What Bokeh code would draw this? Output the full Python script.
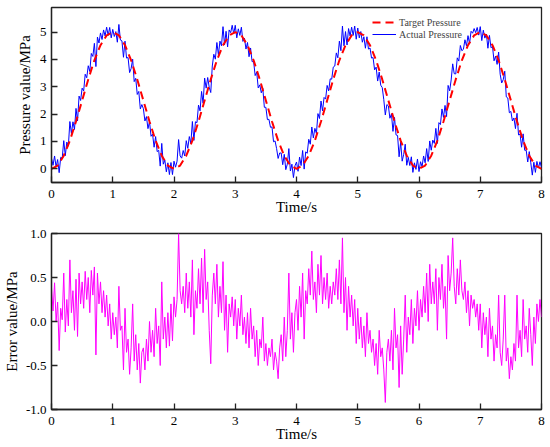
from bokeh.plotting import figure
from bokeh.layouts import column
from bokeh.models import Range1d, FixedTicker, PrintfTickFormatter, Legend, LegendItem
from bokeh.embed import file_html
from bokeh.resources import INLINE
import numpy as np

# ---------------- data ----------------
target_time = np.linspace(0, 8, 81)
target_pressure = [
    0.00, 0.12, 0.48, 1.03, 1.73, 2.50, 3.27, 3.97, 4.52, 4.88,
    5.00, 4.88, 4.52, 3.97, 3.27, 2.50, 1.73, 1.03, 0.48, 0.12,
    0.00, 0.12, 0.48, 1.03, 1.73, 2.50, 3.27, 3.97, 4.52, 4.88,
    5.00, 4.88, 4.52, 3.97, 3.27, 2.50, 1.73, 1.03, 0.48, 0.12,
    0.00, 0.12, 0.48, 1.03, 1.73, 2.50, 3.27, 3.97, 4.52, 4.88,
    5.00, 4.88, 4.52, 3.97, 3.27, 2.50, 1.73, 1.03, 0.48, 0.12,
    0.00, 0.12, 0.48, 1.03, 1.73, 2.50, 3.27, 3.97, 4.52, 4.88,
    5.00, 4.88, 4.52, 3.97, 3.27, 2.50, 1.73, 1.03, 0.48, 0.12,
    0.00,
]

sample_time = np.linspace(0, 8, 321)
actual_pressure = [
    0.38, 0.13, 0.47, 0.07, 0.34, -0.14, 0.42, 0.39, 1.03, 0.48,
    0.98, 0.83, 1.73, 1.29, 1.72, 1.44, 2.21, 1.75, 2.66, 2.50,
    2.95, 2.85, 3.46, 3.33, 3.77, 3.56, 4.22, 4.11, 4.59, 3.74,
    4.82, 4.60, 4.97, 4.73, 5.08, 4.86, 5.18, 4.88, 5.17, 4.79,
    5.10, 4.84, 5.02, 4.63, 5.28, 4.71, 4.68, 4.08, 4.67, 4.05,
    4.07, 3.52, 3.67, 4.01, 3.19, 3.31, 2.72, 2.83, 2.19, 2.35,
    2.20, 1.75, 1.91, 1.47, 1.73, 1.19, 1.27, 0.79, 1.18, 0.63,
    0.68, 0.10, 0.93, 0.17, 0.32, -0.11, 0.22, -0.21, 0.23, -0.21,
    0.28, 0.06, 0.28, 1.07, 0.47, 0.39, 0.67, 0.47, 1.03, 0.75,
    1.18, 0.93, 1.73, 1.04, 1.72, 1.69, 2.33, 2.12, 2.83, 2.40,
    3.32, 2.95, 3.34, 2.98, 2.79, 3.76, 4.19, 4.01, 4.62, 4.17,
    4.67, 4.50, 5.20, 4.53, 5.03, 4.46, 5.08, 4.98, 5.25, 4.94,
    5.25, 4.79, 5.12, 4.88, 5.18, 4.66, 4.78, 4.38, 4.62, 4.10,
    4.42, 3.92, 3.92, 3.41, 3.54, 2.96, 3.07, 2.78, 2.94, 2.25,
    2.25, 1.80, 1.81, 1.52, 1.53, 0.99, 1.02, 0.74, 0.38, 0.58,
    0.58, 0.15, 0.53, -0.03, 0.17, 0.74, -0.08, 0.17, -0.32, 0.11,
    0.25, -0.09, 0.43, 0.12, 0.67, -0.01, 0.62, 0.57, 1.08, 0.90,
    1.53, 1.13, 1.48, 1.29, 2.02, 1.84, 2.48, 2.12, 2.61, 2.55,
    3.05, 2.85, 3.29, 3.28, 3.72, 3.76, 4.24, 4.06, 4.67, 4.32,
    5.22, 4.50, 5.02, 4.53, 5.13, 4.86, 5.18, 4.88, 5.22, 4.74,
    5.15, 4.79, 5.02, 4.63, 4.83, 4.41, 4.83, 4.38, 4.42, 4.05,
    4.07, 3.62, 3.72, 3.21, 3.54, 3.06, 2.97, 2.53, 1.97, 2.35,
    2.30, 1.85, 2.01, 1.37, 1.88, 1.24, 1.22, 0.44, 0.98, 0.28,
    0.53, 0.90, 0.13, 0.42, 0.12, 0.44, -0.13, 0.22, -0.02, 0.36,
    -0.10, 0.26, 0.08, 0.47, 0.22, 0.74, 0.27, 1.02, 0.68, 1.05,
    0.93, 1.48, 0.93, 1.69, 1.62, 2.19, 1.88, 2.32, 1.91, 3.05,
    2.85, 3.25, 3.84, 3.48, 3.47, 4.06, 3.94, 4.51, 4.32, 4.37,
    4.72, 4.50, 4.87, 4.58, 5.03, 4.96, 5.13, 4.98, 5.17, 4.89,
    5.20, 4.69, 5.07, 4.78, 4.93, 4.41, 4.88, 4.43, 4.47, 3.95,
    4.12, 3.82, 4.27, 3.46, 3.14, 3.26, 3.57, 2.63, 2.59, 2.05,
    2.10, 1.75, 1.86, 1.47, 2.03, 1.24, 1.27, 0.79, 1.28, 0.68,
    0.68, 0.25, 0.63, 0.22, -0.23, 0.24, -0.13, 0.27, 0.03, 0.26,
    0.05,
]

error_value = [
    0.38, 0.12, 0.44, 0.00, 0.22, -0.33, 0.15, 0.02, 0.55, -0.12,
    0.25, -0.05, 0.70, 0.10, 0.35, -0.10, 0.48, -0.17, 0.55, 0.20,
    0.45, 0.15, 0.57, 0.25, 0.50, 0.10, 0.58, 0.30, 0.62, -0.38,
    0.55, 0.20, 0.45, 0.10, 0.35, 0.05, 0.30, -0.05, 0.20, -0.20,
    0.10, -0.15, 0.05, -0.30, 0.40, -0.10, -0.05, -0.55, 0.15, -0.35,
    -0.20, -0.60, -0.30, 0.20, -0.45, -0.15, -0.55, -0.25, -0.70, -0.35,
    -0.30, -0.55, -0.20, -0.45, 0.00, -0.35, -0.10, -0.40, 0.15, -0.25,
    -0.05, -0.50, 0.45, -0.20, 0.05, -0.30, 0.10, -0.28, 0.20, -0.22,
    0.28, 0.05, 0.25, 1.00, 0.35, 0.20, 0.40, 0.10, 0.55, 0.15,
    0.45, 0.05, 0.70, -0.15, 0.35, 0.15, 0.60, 0.20, 0.72, 0.10,
    0.82, 0.25, 0.45, -0.10, -0.48, 0.30, 0.55, 0.20, 0.65, 0.05,
    0.40, 0.10, 0.68, -0.10, 0.30, -0.35, 0.20, 0.05, 0.28, -0.05,
    0.25, -0.20, 0.15, -0.05, 0.30, -0.15, 0.05, -0.25, 0.10, -0.30,
    0.15, -0.20, -0.05, -0.40, -0.10, -0.50, -0.20, -0.30, 0.05, -0.45,
    -0.25, -0.50, -0.30, -0.40, -0.20, -0.55, -0.35, -0.45, -0.65, -0.30,
    -0.15, -0.45, 0.05, -0.40, -0.10, 0.55, -0.20, 0.10, -0.35, 0.10,
    0.25, -0.10, 0.40, 0.05, 0.55, -0.20, 0.35, 0.20, 0.60, 0.30,
    0.80, 0.25, 0.45, 0.10, 0.65, 0.30, 0.75, 0.20, 0.50, 0.25,
    0.55, 0.15, 0.40, 0.20, 0.45, 0.30, 0.60, 0.25, 0.70, 0.20,
    0.95, 0.10, 0.50, -0.10, 0.40, 0.05, 0.30, -0.05, 0.25, -0.25,
    0.15, -0.20, 0.05, -0.30, -0.05, -0.40, 0.10, -0.25, -0.10, -0.35,
    -0.20, -0.50, -0.25, -0.60, -0.10, -0.40, -0.30, -0.55, -0.92, -0.35,
    -0.20, -0.45, -0.10, -0.55, 0.15, -0.30, -0.15, -0.75, -0.05, -0.60,
    -0.20, 0.30, -0.35, 0.05, -0.15, 0.25, -0.25, 0.15, -0.05, 0.35,
    -0.10, 0.25, 0.05, 0.40, 0.10, 0.55, 0.00, 0.65, 0.20, 0.45,
    0.20, 0.60, -0.10, 0.50, 0.25, 0.65, 0.15, 0.40, -0.20, 0.75,
    0.35, 0.55, 0.95, 0.40, 0.20, 0.60, 0.30, 0.70, 0.35, 0.25,
    0.45, 0.10, 0.35, -0.05, 0.30, 0.15, 0.25, 0.05, 0.20, -0.10,
    0.20, -0.30, 0.10, -0.15, 0.05, -0.40, 0.15, -0.20, -0.05, -0.45,
    -0.15, -0.30, 0.30, -0.35, -0.50, -0.20, 0.30, -0.45, -0.30, -0.65,
    -0.40, -0.55, -0.25, -0.45, 0.30, -0.30, -0.10, -0.40, 0.25, -0.20,
    -0.05, -0.35, 0.15, -0.15, -0.50, 0.05, -0.25, 0.20, 0.00, 0.25,
    0.05,
]

x_ticks = [0, 1, 2, 3, 4, 5, 6, 7, 8]
pressure_ticks = [0, 1, 2, 3, 4, 5]
error_ticks = [-1.0, -0.5, 0.0, 0.5, 1.0]

FONT = "Liberation Serif"


def style(p, yticks):
    p.xaxis.ticker = FixedTicker(ticks=x_ticks)
    p.yaxis.ticker = FixedTicker(ticks=yticks)
    for ax in (p.xaxis[0], p.yaxis[0]):
        ax.major_tick_in = 6
        ax.major_tick_out = 0
        ax.minor_tick_line_color = None
        ax.axis_line_color = "#222222"
        ax.axis_line_width = 1.3
        ax.major_tick_line_color = "#222222"
        ax.major_tick_line_width = 1.3
        ax.major_label_text_font = FONT
        ax.major_label_text_font_size = "13px"
        ax.major_label_text_color = "black"
        ax.axis_label_text_font = FONT
        ax.axis_label_text_font_size = "15px"
        ax.axis_label_text_font_style = "normal"
        ax.axis_label_text_color = "black"
    p.xaxis.major_label_standoff = 7
    p.xaxis.axis_label_standoff = -2
    p.yaxis.major_label_standoff = 5
    p.xgrid.visible = False
    p.ygrid.visible = False
    p.outline_line_color = "#222222"
    p.outline_line_width = 1.3
    p.background_fill_color = "white"
    p.border_fill_color = "white"


# ---------------- top: pressure ----------------
p1 = figure(width=550, height=218, output_backend="svg", toolbar_location=None,
            x_range=Range1d(0, 8), y_range=Range1d(-0.5, 5.9),
            min_border_left=51, min_border_right=9, min_border_top=7,
            min_border_bottom=36)
r_act = p1.line(sample_time, actual_pressure, line_color="#0000FF", line_width=1)
r_tar = p1.line(target_time, target_pressure, line_color="#FF0000", line_width=2,
                line_dash="8 5")
style(p1, pressure_ticks)
p1.xaxis.axis_label = "Time/s"
p1.yaxis.axis_label = "Pressure value/MPa"
p1.yaxis.axis_label_standoff = 4

legend = Legend(items=[LegendItem(label="Target Pressure", renderers=[r_tar]),
                       LegendItem(label="Actual Pressure", renderers=[r_act])],
                location=(321, 142), border_line_color=None,
                background_fill_alpha=0, padding=0, margin=0, spacing=0,
                glyph_width=24, glyph_height=12, label_height=12,
                label_standoff=3, label_text_font=FONT,
                label_text_font_size="10px")
p1.add_layout(legend)

# ---------------- bottom: error ----------------
p2 = figure(width=550, height=228, output_backend="svg", toolbar_location=None,
            x_range=Range1d(0, 8), y_range=Range1d(-1.0, 1.0),
            min_border_left=51, min_border_right=9, min_border_top=15,
            min_border_bottom=37)
p2.line(sample_time, error_value, line_color="#FF00FF", line_width=1)
style(p2, error_ticks)
p2.yaxis.formatter = PrintfTickFormatter(format="%.1f")
p2.xaxis.axis_label = "Time/s"
p2.yaxis.axis_label = "Error value/MPa"
p2.yaxis.axis_label_standoff = 3

layout = column(p1, p2, spacing=0)
open("out.html", "w").write(file_html(layout, INLINE))
